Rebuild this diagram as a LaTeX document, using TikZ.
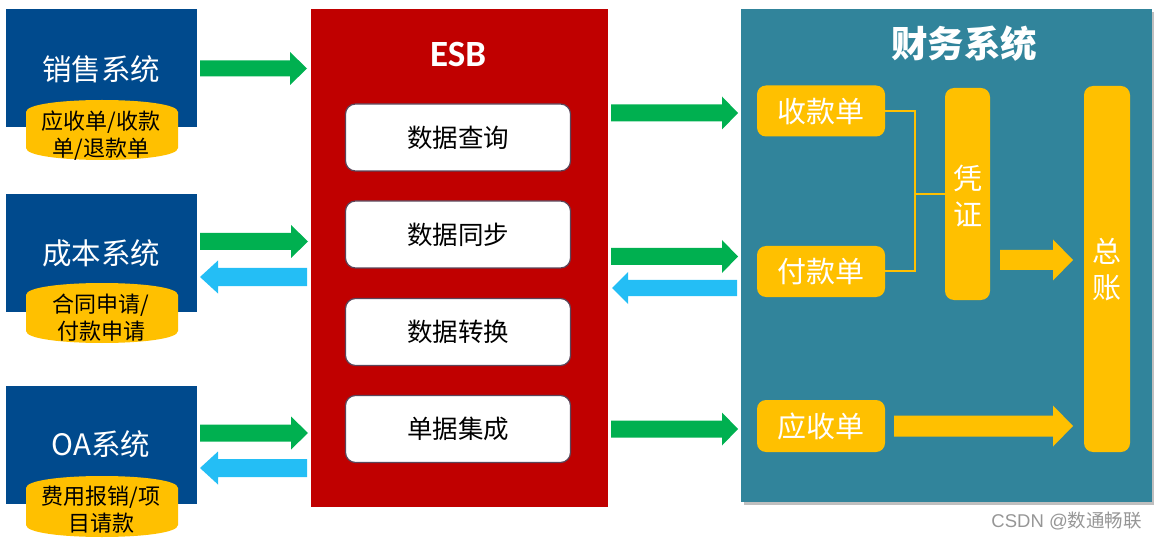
\documentclass[tikz,border=0pt]{standalone}
\usepackage{fontspec}
\setmainfont{Noto Sans CJK SC}
\newfontfamily\esbfont{Carlito}
\newfontfamily\wmfont{Liberation Sans}
\definecolor{sysblue}{RGB}{0,74,141}
\definecolor{esbred}{RGB}{192,0,0}
\definecolor{teal}{RGB}{49,132,155}
\definecolor{yel}{RGB}{255,192,0}
\definecolor{grn}{RGB}{0,176,80}
\definecolor{lblue}{RGB}{36,190,245}
\definecolor{wm}{RGB}{150,150,150}
\definecolor{boxedge}{RGB}{90,70,90}
\newcommand\rarrow[7]{\fill[#7] (#1,{#3-#4}) -- ({#2-#6},{#3-#4}) -- ({#2-#6},{#3-#5}) -- (#2,#3) -- ({#2-#6},{#3+#5}) -- ({#2-#6},{#3+#4}) -- (#1,{#3+#4}) -- cycle;}
\newcommand\larrow[7]{\fill[#7] (#1,#3) -- ({#1+#6},{#3-#5}) -- ({#1+#6},{#3-#4}) -- (#2,{#3-#4}) -- (#2,{#3+#4}) -- ({#1+#6},{#3+#4}) -- ({#1+#6},{#3+#5}) -- cycle;}
\newcommand\cyl[4]{\fill[yel] (#1,{#3+12}) .. controls (#1,{#3-4}) and (#2,{#3-4}) .. (#2,{#3+12}) -- (#2,{#4-12}) .. controls (#2,{#4+4}) and (#1,{#4+4}) .. (#1,{#4-12}) -- cycle;}
\begin{document}
\begin{tikzpicture}[x=1pt,y=-1pt,
  sysbox/.style={fill=sysblue,minimum width=191pt,minimum height=118pt,inner sep=0pt,anchor=north west},
  systext/.style={text=white,font=\fontsize{29.5}{30}\selectfont},
  cyltext/.style={align=center,font=\fontsize{22}{27}\selectfont},
  esbbox/.style={fill=white,draw=boxedge,line width=1.2pt,rounded corners=10pt,minimum width=225pt,minimum height=67pt,font=\fontsize{25.5}{26}\selectfont},
  ybox/.style={fill=yel,rounded corners=9pt,text=white,inner sep=0pt},
  ytext/.style={font=\fontsize{29}{36}\selectfont,align=center},
  yline/.style={draw=yel,line width=2pt}]
\useasboundingbox (0,0) rectangle (1157,540);
% left systems
\node[sysbox] (sales) at (6,9) {};
\node[sysbox] (cost) at (6,194) {};
\node[sysbox] (oa) at (6,386) {};
\node[systext] (salest) at (101,69) {销售系统};
\node[systext] (costt) at (101,253) {成本系统};
\node[systext] (oat) at (101,444) {OA系统};
\cyl{26}{178}{100}{160}
\cyl{26}{178}{283}{343}
\cyl{26}{178}{476}{537}
\node[cyltext] (salesd) at (101,136) {应收单/收款\\单/退款单};
\node[cyltext] (costd) at (101,318) {合同申请/\\付款申请};
\node[cyltext] (oad) at (101,510) {费用报销/项\\目请款};
% ESB
\node[fill=esbred,minimum width=297pt,minimum height=498pt,inner sep=0pt,anchor=north west] (esb) at (311,9) {};
\node[text=white,font=\esbfont\bfseries\fontsize{37}{38}\selectfont] (esbt) at (458,54) {ESB};
\node[esbbox] (q) at (458,137.5) {数据查询};
\node[esbbox] (s) at (458,234.5) {数据同步};
\node[esbbox] (t) at (458,332) {数据转换};
\node[esbbox] (i) at (458,429) {单据集成};
% finance panel
\fill[black!25] (744,12) rectangle (1154,505);
\node[fill=teal,minimum width=411pt,minimum height=493pt,inner sep=0pt,anchor=north west] (fin) at (741,9) {};
\node[text=white,font=\bfseries\fontsize{36.5}{37}\selectfont] (fint) at (964,44) {财务系统};
\node[ybox,minimum width=128pt,minimum height=51pt] (skd) at (821,111) {};
\node[ybox,minimum width=128pt,minimum height=51pt] (fkd) at (821,271.5) {};
\node[ybox,minimum width=128pt,minimum height=52pt] (ysd) at (821,426) {};
\node[ybox,minimum width=45pt,minimum height=212pt] (pz) at (967.5,194) {};
\node[ybox,minimum width=46pt,minimum height=366pt] (zz) at (1107,269) {};
\node[ytext,text=white] at (skd) {收款单};
\node[ytext,text=white] at (fkd) {付款单};
\node[ytext,text=white] at (ysd) {应收单};
\node[ytext,text=white] at (967.5,196) {凭\\证};
\node[ytext,text=white] at (1107,270) {总\\账};
\draw[yline] (skd.east) -- (915,111) |- (fkd.east);
\coordinate (j) at (915,194);
\draw[yline] (j) -- (pz.west);
\rarrow{1000}{1073}{260}{10}{20.5}{20}{yel}
\rarrow{894}{1073}{426}{10.5}{20.5}{20}{yel}
% arrows left
\rarrow{200}{307}{68.5}{8}{16.5}{17}{grn}
\rarrow{200}{308}{241.5}{8.5}{16.5}{17}{grn}
\larrow{200}{307}{277}{9}{16.5}{18}{lblue}
\rarrow{200}{308}{433}{8.5}{16.5}{17}{grn}
\larrow{200}{307}{468}{9}{16.5}{18}{lblue}
% arrows right
\rarrow{611}{738}{113}{8.5}{16.5}{16}{grn}
\rarrow{611}{738}{256.5}{8.5}{16.5}{16}{grn}
\larrow{612}{737}{288}{8}{16}{16}{lblue}
\rarrow{611}{738}{429}{8.5}{16.5}{16}{grn}
% watermark
\node[text=wm,font=\fontsize{18.5}{19}\selectfont,anchor=east,inner sep=0pt] (wmk) at (1142,521) {{\wmfont CSDN @}数通畅联};
\end{tikzpicture}
\end{document}
